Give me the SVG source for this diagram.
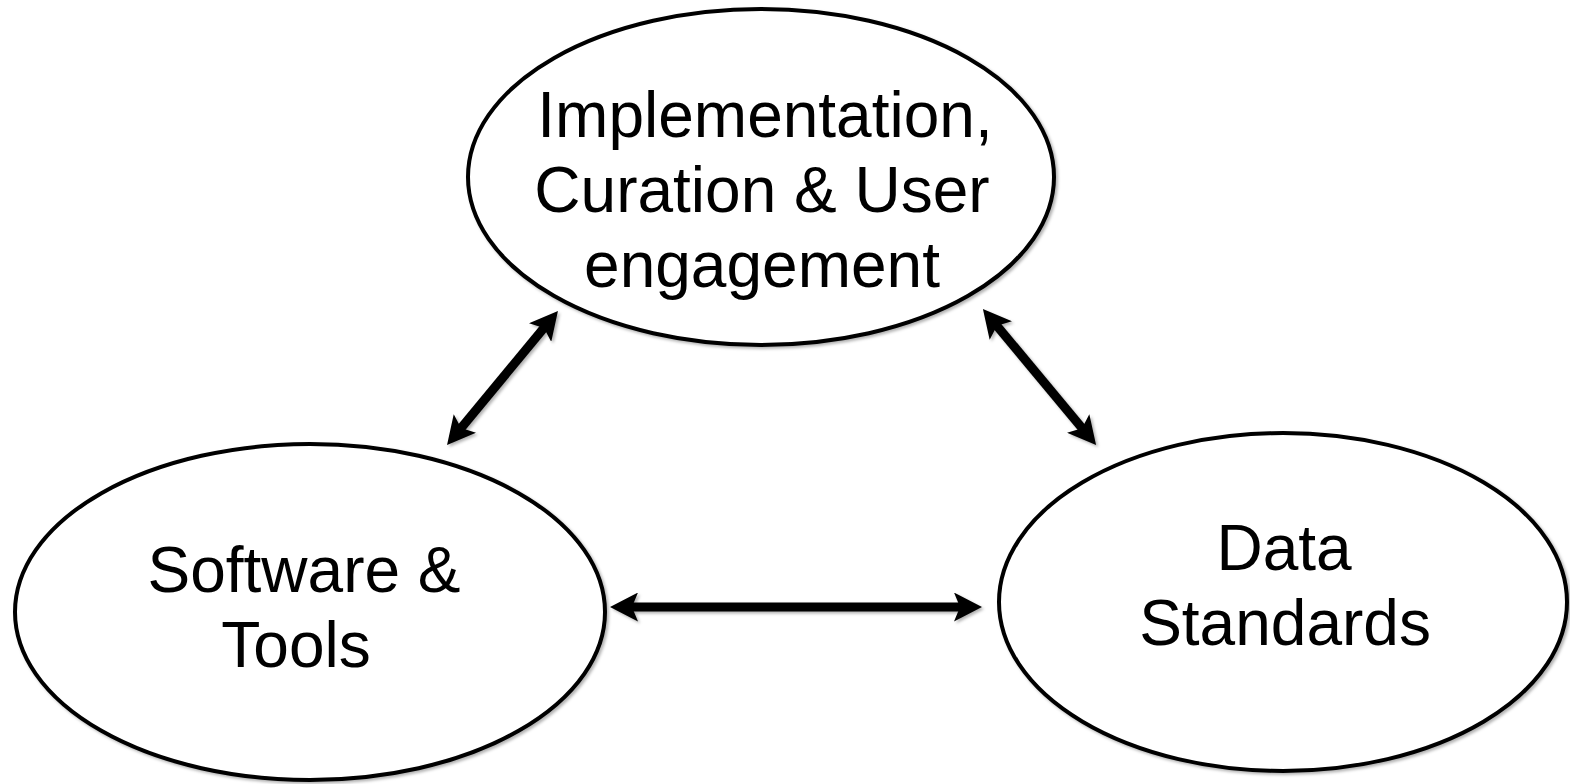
<svg xmlns="http://www.w3.org/2000/svg" width="1570" height="784" viewBox="0 0 1570 784">
  <style>
    .node ellipse { fill: #ffffff; stroke: #000000; stroke-width: 4; }
    .label { font-family: "Liberation Sans", Arial, sans-serif; font-size: 64px; fill: #000000; text-anchor: middle; }
    .conn line { stroke: #000000; stroke-width: 9; marker-start: url(#head); marker-end: url(#head); }
  </style>
  <defs>
    <filter id="shadow" x="-10%" y="-10%" width="120%" height="120%">
      <feDropShadow dx="2" dy="2" stdDeviation="1.5" flood-color="#000" flood-opacity="0.3"/>
    </filter>
    <marker id="head" markerUnits="userSpaceOnUse" viewBox="0 0 28 29" refX="8" refY="14.5" markerWidth="28" markerHeight="29" orient="auto-start-reverse">
      <path d="M0,0 L28,14.5 L0,29 L6,14.5 z" fill="#000000"/>
    </marker>
  </defs>
  <rect width="1570" height="784" fill="#ffffff"/>
  <g id="node-implementation" class="node" filter="url(#shadow)">
    <ellipse cx="761" cy="177" rx="293" ry="168"/>
    <text class="label"><tspan x="765" y="137">Implementation,</tspan><tspan x="762" y="212">Curation &amp; User</tspan><tspan x="762" y="287">engagement</tspan></text>
  </g>
  <g id="node-software" class="node" filter="url(#shadow)">
    <ellipse cx="310" cy="612" rx="295" ry="168"/>
    <text class="label"><tspan x="304" y="592">Software &amp;</tspan><tspan x="296" y="667">Tools</tspan></text>
  </g>
  <g id="node-standards" class="node" filter="url(#shadow)">
    <ellipse cx="1283" cy="602" rx="284" ry="169"/>
    <text class="label"><tspan x="1284" y="570">Data</tspan><tspan x="1285" y="645">Standards</tspan></text>
  </g>
  <g id="connectors" class="conn" filter="url(#shadow)">
    <line x1="630" y1="607" x2="962" y2="607"/>
    <line x1="459.8" y1="429.6" x2="545.2" y2="326.4"/>
    <line x1="995.7" y1="324.3" x2="1083.3" y2="429.7"/>
  </g>
</svg>
